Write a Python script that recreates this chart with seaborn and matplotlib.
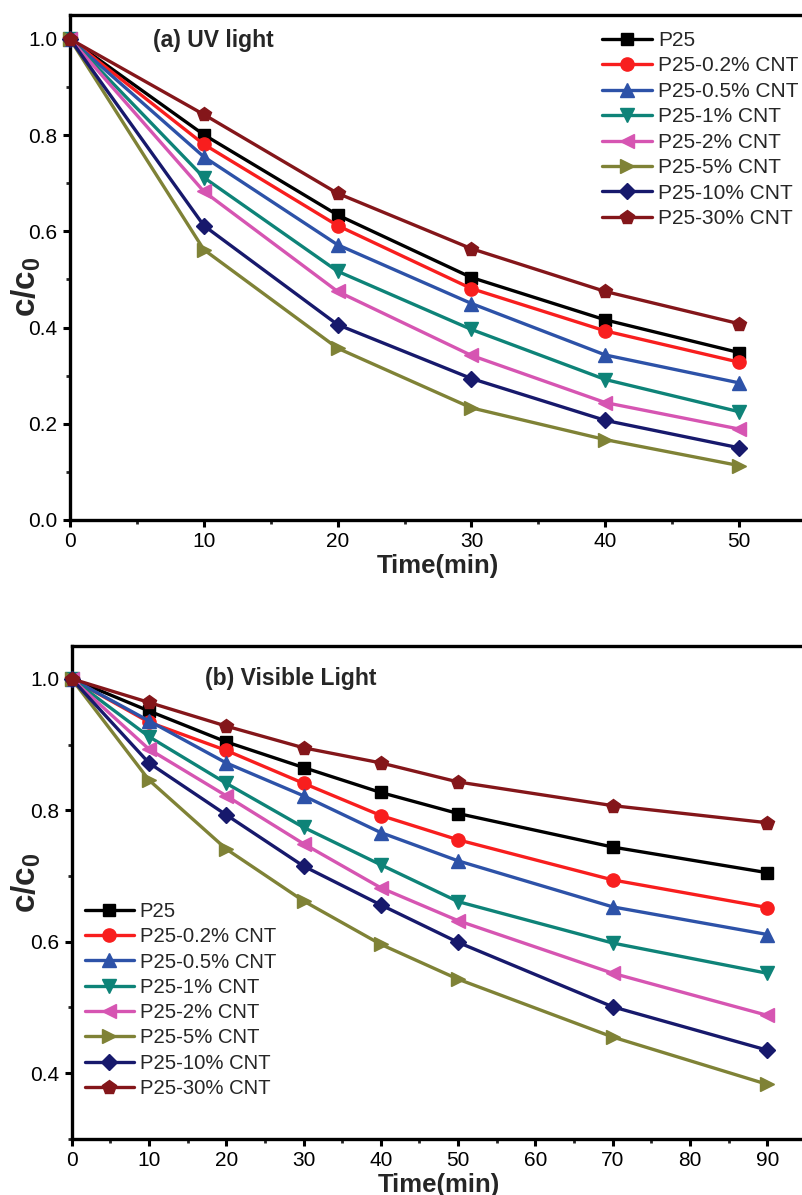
import matplotlib
matplotlib.use("Agg")
import matplotlib.pyplot as plt
from matplotlib.ticker import MultipleLocator, FormatStrFormatter
import seaborn as sns

# ---------------- data ----------------
labels = ["P25", "P25-0.2% CNT", "P25-0.5% CNT", "P25-1% CNT",
          "P25-2% CNT", "P25-5% CNT", "P25-10% CNT", "P25-30% CNT"]

uv_time = [0, 10, 20, 30, 40, 50]
uv_p25 = [1.0, 0.801, 0.634, 0.504, 0.416, 0.348]
uv_02 = [1.0, 0.781, 0.612, 0.481, 0.393, 0.328]
uv_05 = [1.0, 0.755, 0.572, 0.450, 0.343, 0.285]
uv_1 = [1.0, 0.712, 0.517, 0.396, 0.292, 0.225]
uv_2 = [1.0, 0.683, 0.475, 0.342, 0.244, 0.189]
uv_5 = [1.0, 0.562, 0.357, 0.233, 0.167, 0.113]
uv_10 = [1.0, 0.612, 0.406, 0.294, 0.207, 0.150]
uv_30 = [1.0, 0.843, 0.679, 0.564, 0.475, 0.408]

vis_time = [0, 10, 20, 30, 40, 50, 70, 90]
vis_p25 = [1.0, 0.951, 0.904, 0.865, 0.827, 0.795, 0.744, 0.705]
vis_02 = [1.0, 0.934, 0.891, 0.841, 0.792, 0.755, 0.694, 0.652]
vis_05 = [1.0, 0.936, 0.872, 0.822, 0.766, 0.723, 0.653, 0.611]
vis_1 = [1.0, 0.912, 0.841, 0.774, 0.717, 0.661, 0.598, 0.552]
vis_2 = [1.0, 0.893, 0.822, 0.749, 0.682, 0.632, 0.552, 0.488]
vis_5 = [1.0, 0.846, 0.741, 0.662, 0.596, 0.543, 0.455, 0.383]
vis_10 = [1.0, 0.872, 0.793, 0.715, 0.656, 0.599, 0.501, 0.435]
vis_30 = [1.0, 0.964, 0.928, 0.895, 0.872, 0.843, 0.807, 0.781]

uv_series = [uv_p25, uv_02, uv_05, uv_1, uv_2, uv_5, uv_10, uv_30]
vis_series = [vis_p25, vis_02, vis_05, vis_1, vis_2, vis_5, vis_10, vis_30]

colors = ["#000000", "#F81E1E", "#2D52A8", "#0E8378",
          "#D655B2", "#7F8236", "#17196C", "#84161A"]
markers = ["s", "o", "^", "v", "<", ">", "D", "p"]
msizes = [8.5, 9.5, 10.5, 10.5, 10.5, 10.5, 8, 10.5]

# ---------------- style ----------------
sns.set_style("ticks")
plt.rcParams["font.family"] = ["Liberation Sans", "DejaVu Sans"]
plt.rcParams["mathtext.fontset"] = "custom"
plt.rcParams["mathtext.rm"] = "Liberation Sans"
plt.rcParams["mathtext.bf"] = "Liberation Sans:bold"

fig = plt.figure(figsize=(8.02, 11.95), dpi=100)
ax1 = fig.add_axes([0.0873, 0.5649, 0.9177, 0.4226])
ax2 = fig.add_axes([0.0893, 0.0469, 0.9157, 0.4126])


def draw(ax, t, series):
    for vals, lab, c, m, ms in zip(series, labels, colors, markers, msizes):
        sns.lineplot(x=t, y=vals, ax=ax, color=c, marker=m, markersize=ms,
                     markeredgecolor=c, markerfacecolor=c, markeredgewidth=1,
                     linewidth=2.4, label=lab, clip_on=False, zorder=3)


def style_axes(ax):
    for side in ["left", "bottom", "top", "right"]:
        ax.spines[side].set_linewidth(2.4)
        ax.spines[side].set_color("black")
        ax.spines[side].set_visible(True)
    ax.tick_params(which="major", direction="out", length=5, width=2.2,
                   labelsize=15, pad=4, colors="black",
                   top=False, right=False)
    ax.tick_params(which="minor", direction="out", length=3, width=2.0,
                   top=False, right=False)
    ax.set_ylabel(r"$\mathbf{c/c_0}$", fontsize=24)
    ax.set_xlabel("Time(min)", fontsize=18.5, fontweight="bold", labelpad=1.5)


draw(ax1, uv_time, uv_series)
draw(ax2, vis_time, vis_series)

ax1.set_xlim(0, 55)
ax1.set_ylim(0, 1.05)
ax1.set_xticks([0, 10, 20, 30, 40, 50])
ax1.xaxis.set_minor_locator(MultipleLocator(5))
ax1.yaxis.set_major_locator(MultipleLocator(0.2))
ax1.yaxis.set_minor_locator(MultipleLocator(0.1))
ax1.yaxis.set_major_formatter(FormatStrFormatter("%.1f"))

ax2.set_xlim(0, 95)
ax2.set_ylim(0.3, 1.05)
ax2.set_xticks([0, 10, 20, 30, 40, 50, 60, 70, 80, 90])
ax2.xaxis.set_minor_locator(MultipleLocator(5))
ax2.set_yticks([0.4, 0.6, 0.8, 1.0])
ax2.yaxis.set_minor_locator(MultipleLocator(0.1))
ax2.yaxis.set_major_formatter(FormatStrFormatter("%.1f"))

style_axes(ax1)
style_axes(ax2)
ax1.yaxis.set_label_coords(-0.037, 0.461)
ax2.yaxis.set_label_coords(-0.039, 0.519)

ax1.text(0.113, 0.950, "(a) UV light", transform=ax1.transAxes,
         fontsize=16.5, fontweight="bold", ha="left", va="center")
ax2.text(0.182, 0.933, "(b) Visible Light", transform=ax2.transAxes,
         fontsize=16.5, fontweight="bold", ha="left", va="center")

leg_kw = dict(loc="upper left", frameon=False, borderpad=0, borderaxespad=0,
              handlelength=2.4, handletextpad=0.3, labelspacing=0.31,
              numpoints=1)
ax1.legend(bbox_to_anchor=(601.7 / 802, 1 - 31 / 1195),
           bbox_transform=fig.transFigure, fontsize=15, **leg_kw)
ax2.legend(bbox_to_anchor=(85 / 802, 1 - 902 / 1195),
           bbox_transform=fig.transFigure, fontsize=14.6, **leg_kw)

fig.savefig("out.png", dpi=100)
